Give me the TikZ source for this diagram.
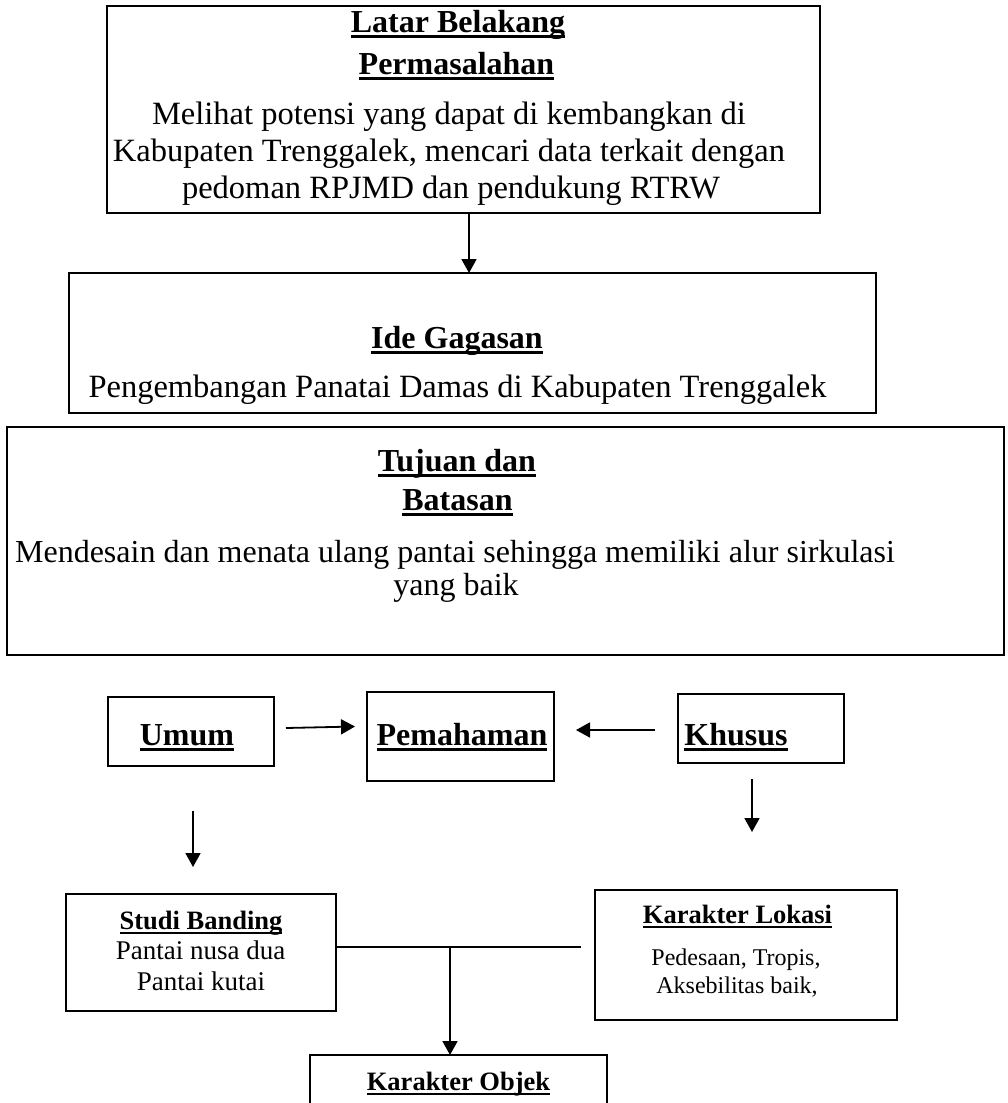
\documentclass[tikz,border=0pt]{standalone}
\usepackage{fontspec}
\setmainfont{Liberation Serif}
\usetikzlibrary{arrows.meta}
\newcommand{\ulthick}[1]{\setbox0=\hbox{#1}\rlap{\rule[-6pt]{\wd0}{2.8pt}}\box0}
\newcommand{\ulthin}[1]{\setbox0=\hbox{#1}\rlap{\rule[-5pt]{\wd0}{2.3pt}}\box0}
\begin{document}
\begin{tikzpicture}[x=1pt,y=-1pt,
  boxnode/.style={draw, line width=1.8pt, inner sep=0pt, outer sep=0pt},
  bigtxt/.style={inner sep=0pt, anchor=base, font=\fontsize{32.5}{37}\selectfont},
  midtxt/.style={inner sep=0pt, anchor=base, font=\fontsize{32}{37}\selectfont},
  bigtitle/.style={inner sep=0pt, anchor=base, font=\fontsize{32}{37}\selectfont\bfseries},
  smalltitle/.style={inner sep=0pt, anchor=base, font=\fontsize{26.5}{31}\selectfont\bfseries},
  smalltxt/.style={inner sep=0pt, anchor=base, font=\fontsize{27}{31}\selectfont},
  tinytxt/.style={inner sep=0pt, anchor=base, font=\fontsize{24}{28}\selectfont},
  conn/.style={line width=1.8pt},
  arr/.style={line width=1.8pt, -{Triangle[length=14pt,width=15pt]}}]
\useasboundingbox (0,0) rectangle (1007,1103);
\clip (0,0) rectangle (1007,1103);
\fill[white] (0,0) rectangle (1007,1103);

% boxes
\node[boxnode, minimum width=713pt, minimum height=207pt] (lb) at (463.5,109.5) {};
\node[boxnode, minimum width=807pt, minimum height=140pt] (ide) at (472.5,343) {};
\node[boxnode, line width=2.8pt, minimum width=997pt, minimum height=228pt] (tuj) at (505.5,541) {};
\node[boxnode, minimum width=166pt, minimum height=69pt] (umum) at (191,731.5) {};
\node[boxnode, minimum width=187pt, minimum height=89pt] (pem) at (460.5,736.5) {};
\node[boxnode, minimum width=166pt, minimum height=69pt] (khu) at (761,728.5) {};
\node[boxnode, minimum width=269.5pt, minimum height=117pt] (studi) at (201,952.5) {};
\node[boxnode, minimum width=302pt, minimum height=130pt] (lok) at (746,955) {};
\node[boxnode, minimum width=297pt, minimum height=105pt] (obj) at (458.5,1107.5) {};

% texts
\node[bigtitle] (lbt1) at (458,32) {\ulthick{Latar Belakang}};
\node[bigtitle] (lbt2) at (456.5,74) {\ulthick{Permasalahan}};
\node[bigtxt] (lbb1) at (449,124.5) {Melihat potensi yang dapat di kembangkan di};
\node[bigtxt] (lbb2) at (449,161.5) {Kabupaten Trenggalek, mencari data terkait dengan};
\node[bigtxt] (lbb3) at (451,198) {pedoman RPJMD dan pendukung RTRW};

\node[bigtitle] (idet) at (457,348) {\ulthick{Ide Gagasan}};
\node[bigtxt] (ideb) at (457.5,397) {Pengembangan Panatai Damas di Kabupaten Trenggalek};

\node[bigtitle] (tujt1) at (457,471) {\ulthick{Tujuan dan}};
\node[bigtitle] (tujt2) at (457.5,510) {\ulthick{Batasan}};
\node[midtxt] (tujb1) at (455,562) {Mendesain dan menata ulang pantai sehingga memiliki alur sirkulasi};
\node[midtxt] (tujb2) at (456,595) {yang baik};

\node[bigtitle] (umumt) at (187,745) {\ulthick{Umum}};
\node[bigtitle] (pemt) at (462,745) {\ulthick{Pemahaman}};
\node[bigtitle] (khut) at (736,745) {\ulthick{Khusus}};

\node[smalltitle] (studit) at (201,929) {\ulthin{Studi Banding}};
\node[smalltxt] (studib1) at (200.5,959) {Pantai nusa dua};
\node[smalltxt] (studib2) at (201,990) {Pantai kutai};

\node[smalltitle] (lokt) at (737.5,923) {\ulthin{Karakter Lokasi}};
\node[tinytxt] (lokb1) at (736,965) {Pedesaan, Tropis,};
\node[tinytxt] (lokb2) at (737,993) {Aksebilitas baik,};

\node[smalltitle] (objt) at (458.5,1090) {\ulthin{Karakter Objek}};

% helper coordinates
\coordinate (ax) at (469,0);
\coordinate (ux) at (193,0);
\coordinate (kx) at (752,0);
\coordinate (jy) at (0,947);
\coordinate (jn) at (450,947);

% connectors
\draw[arr] (lb.south -| ax) -- (ide.north -| ax);
\draw[arr] ([xshift=12pt,yshift=3.5pt]umum.east) -- ([xshift=-12pt,yshift=10pt]pem.west);
\draw[arr] ([xshift=-23pt,yshift=-1.5pt]khu.west) -- ([xshift=22pt,yshift=6.5pt]pem.east);
\draw[arr, shorten <=45pt, shorten >=27pt] (umum.south -| ux) -- (studi.north -| ux);
\draw[arr, shorten <=16pt, shorten >=58pt] (khu.south -| kx) -- (lok.north -| kx);
\draw[conn, shorten >=14pt] (studi.east |- jy) -- (lok.west |- jy);
\draw[arr] (jn) -- (obj.north -| jn);
\end{tikzpicture}
\end{document}
